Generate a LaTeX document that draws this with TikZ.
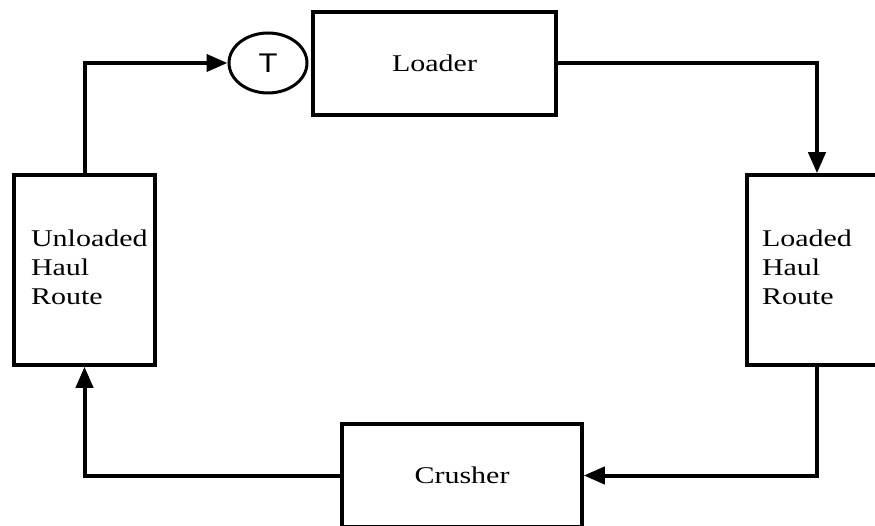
\documentclass[tikz,border=0pt]{standalone}
\usepackage{fontspec}
\setmainfont{Liberation Serif}
\newfontfamily\tfont{Liberation Sans}
\usetikzlibrary{shapes.geometric,arrows.meta}
\newcommand{\sx}[1]{\scalebox{1.25}[1]{#1}}
\begin{document}
\begin{tikzpicture}[x=1pt,y=-1pt,
  box/.style={draw,line width=3.5pt,inner sep=0pt,font=\fontsize{24}{29}\selectfont},
  conn/.style={line width=4pt,-{Triangle[length=21pt,width=17pt]}}]
\clip (0,0) rectangle (875,526);
\fill[white] (0,0) rectangle (875,526);
\node[box,minimum width=243pt,minimum height=103pt] (loader) at (434.5,63.5) {\sx{Loader}};
\node[draw,ellipse,line width=3pt,inner sep=0pt,minimum width=78pt,minimum height=60pt,font=\tfont\fontsize{27}{27}\selectfont] (T) at (268,63) {\raisebox{-1pt}{\scalebox{1.15}[1]{T}}};
\node[box,minimum width=141pt,minimum height=190pt] (unl) at (84.5,270) {\makebox[107pt][l]{\sx{\begin{tabular}{@{}l@{}}Unloaded\\Haul\\Route\end{tabular}}}};
\node[box,minimum width=140pt,minimum height=190pt] (lod) at (817,270) {\makebox[110pt][l]{\sx{\begin{tabular}{@{}l@{}}Loaded\\Haul\\Route\end{tabular}}}};
\node[box,minimum width=240pt,minimum height=103pt] (crush) at (462,475.5) {\sx{Crusher}};
\draw[conn] (unl.north) |- (T.west);
\draw[conn] (loader.east) -| (lod.north);
\draw[conn] (lod.south) |- (crush.east);
\draw[conn] (crush.west) -| (unl.south);
\end{tikzpicture}
\end{document}
